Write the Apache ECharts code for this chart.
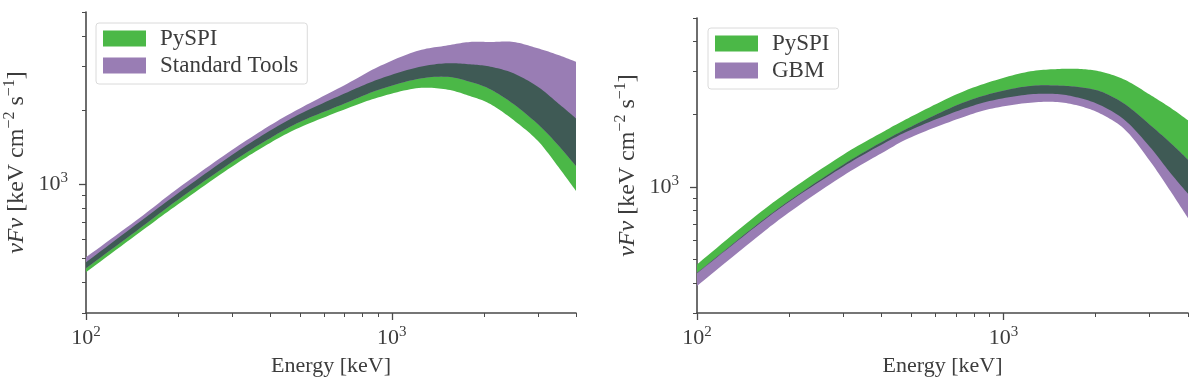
<!DOCTYPE html>
<html>
<head>
<meta charset="utf-8">
<script src="https://cdn.jsdelivr.net/npm/echarts@6.0.0/dist/echarts.min.js"></script>
<style>html,body{margin:0;padding:0;background:#fff}#main{width:1200px;height:382px}</style>
</head>
<body>
<div id="main"></div>
<script>
var energy = [100, 150, 200, 300, 400, 500, 700, 900, 1200, 1500, 1800, 2100, 2500, 3000, 3500, 4000];

// left panel: PySPI vs Standard Tools (keV cm^-2 s^-1)
var pyspiLoA = [439, 638, 829, 1178, 1471, 1700, 2011, 2247, 2449, 2427, 2279, 2114, 1820, 1500, 1176, 939];
var pyspiHiA = [482, 704, 919, 1314, 1650, 1925, 2333, 2660, 2970, 3095, 3066, 2998, 2818, 2487, 2128, 1849];
var stdLo = [456, 662, 865, 1230, 1538, 1790, 2125, 2411, 2665, 2731, 2606, 2427, 2114, 1754, 1440, 1184];
var stdHi = [505, 731, 963, 1376, 1733, 2031, 2523, 2990, 3463, 3650, 3778, 3778, 3778, 3562, 3345, 3142];

// right panel: PySPI vs GBM
var pyspiLoB = [438, 660, 867, 1211, 1494, 1724, 2048, 2263, 2409, 2420, 2318, 2158, 1878, 1466, 1143, 935];
var pyspiHiB = [477, 730, 962, 1358, 1675, 1952, 2409, 2714, 2992, 3073, 3073, 2987, 2766, 2409, 2127, 1884];
var gbmLo = [388, 591, 784, 1111, 1377, 1605, 1897, 2097, 2225, 2242, 2148, 1990, 1716, 1282, 962, 741];
var gbmHi = [440, 666, 875, 1234, 1530, 1774, 2168, 2420, 2608, 2625, 2576, 2466, 2189, 1808, 1522, 1294];

var xMajor = [100, 1000];
var xMinor = [200, 300, 400, 500, 600, 700, 800, 900, 2000, 3000, 4000];
var yMajor = [1000];
var yMinor = [300, 400, 500, 600, 700, 800, 900, 2000, 3000, 4000, 5000];
var xRange = [100, 4000];
var yRange = [300, 5000];

var font = 'Liberation Serif';
var ink = '#3c3c3c';
var spine = '#4a4a4a';
var green = '#4bb847';
var purple = '#997db4';
var dark = '#3f5a55';

var myChart = echarts.init(document.getElementById('main'));

function lg(v) { return Math.log10(v); }

var powRich = {
    b: { fontFamily: font, fontSize: 22, color: ink },
    s: { fontFamily: font, fontSize: 15, color: ink, padding: [0, 0, 12, 0] }
};
function powLabel(v) { return '{b|10}{s|' + Math.round(v) + '}'; }

var yName = '{i|νFν} [keV cm{s|−2} s{s|−1}]';
var nameRich = {
    i: { fontFamily: font, fontSize: 24, fontStyle: 'italic', color: ink },
    s: { fontFamily: font, fontSize: 16, color: ink, padding: [0, 0, 13, 0] }
};

// one hidden log axis carries the data, two value axes (log10 space) draw ticks
function axesFor(g, dim) {
    var isX = dim === 'x';
    var range = isX ? xRange : yRange;
    var pos = isX ? 'bottom' : 'left';
    var major = isX ? xMajor : yMajor;
    var minor = isX ? xMinor : yMinor;
    return [
        { type: 'log', gridIndex: g, position: pos, min: range[0], max: range[1], show: false },
        {
            type: 'value', gridIndex: g, position: pos, min: lg(range[0]), max: lg(range[1]),
            axisLine: { show: true, onZero: false, lineStyle: { color: spine, width: 1.6 } },
            axisTick: { show: true, length: 7, customValues: major.map(lg), lineStyle: { color: spine, width: 1.3 } },
            axisLabel: { show: true, customValues: major.map(lg), formatter: powLabel, rich: powRich, margin: isX ? 12 : 18 },
            splitLine: { show: false },
            name: isX ? 'Energy [keV]' : yName,
            nameLocation: 'middle',
            nameGap: isX ? 42 : 55,
            nameTextStyle: isX ? { fontFamily: font, fontSize: 22, color: ink } :
                { fontFamily: font, fontSize: 24, color: ink, rich: nameRich }
        },
        {
            type: 'value', gridIndex: g, position: pos, min: lg(range[0]), max: lg(range[1]),
            axisLine: { show: false, onZero: false },
            axisTick: { show: true, length: 4, customValues: minor.map(lg), lineStyle: { color: spine, width: 1 } },
            axisLabel: { show: false },
            splitLine: { show: false }
        }
    ];
}

// catmull-rom through the projected points, so the band edges look smooth
function smoothPts(pts) {
    var out = [], n = pts.length, steps = 12;
    for (var i = 0; i < n - 1; i++) {
        var p0 = pts[Math.max(i - 1, 0)], p1 = pts[i], p2 = pts[i + 1], p3 = pts[Math.min(i + 2, n - 1)];
        for (var k = 0; k < steps; k++) {
            var t = k / steps, t2 = t * t, t3 = t2 * t;
            out.push([0, 1].map(function (d) {
                return 0.5 * ((2 * p1[d]) + (-p0[d] + p2[d]) * t +
                    (2 * p0[d] - 5 * p1[d] + 4 * p2[d] - p3[d]) * t2 +
                    (-p0[d] + 3 * p1[d] - 3 * p2[d] + p3[d]) * t3);
            }));
        }
    }
    out.push(pts[n - 1]);
    return out;
}

function drawBand(params, api) {
    if (params.dataIndexInside !== 0) return null;
    var n = params.dataInsideLength;
    var upper = [], lower = [];
    for (var i = 0; i < n; i++) {
        upper.push(api.coord([api.value(0, i), api.value(2, i)]));
        lower.push(api.coord([api.value(0, i), api.value(1, i)]));
    }
    return {
        type: 'polygon',
        shape: { points: smoothPts(upper).concat(smoothPts(lower).reverse()) },
        style: { fill: api.visual('color') }
    };
}

function band(name, axis, lo, hi, color) {
    return {
        type: 'custom', name: name, xAxisIndex: axis, yAxisIndex: axis,
        data: energy.map(function (e, i) { return [e, lo[i], hi[i]]; }),
        encode: { x: 0, y: [1, 2] },
        renderItem: drawBand, itemStyle: { color: color }, silent: true, clip: true
    };
}

function overlapOf(loA, hiA, loB, hiB) {
    return {
        lo: loA.map(function (v, i) { return Math.max(v, loB[i]); }),
        hi: hiA.map(function (v, i) { return Math.min(v, hiB[i]); })
    };
}

var ovA = overlapOf(pyspiLoA, pyspiHiA, stdLo, stdHi);
var ovB = overlapOf(pyspiLoB, pyspiHiB, gbmLo, gbmHi);

function legendFor(left, top, names) {
    return {
        left: left, top: top, orient: 'vertical', icon: 'rect', selectedMode: false,
        data: names, itemWidth: 43, itemHeight: 16, itemGap: 4,
        padding: [4, 9, 7, 7],
        borderColor: '#dadada', borderWidth: 1, borderRadius: 3, backgroundColor: 'rgba(255,255,255,0.85)',
        textStyle: { fontFamily: font, fontSize: 23, color: ink, padding: [0, 0, 0, 9] }
    };
}

option = {
    animation: false,
    grid: [
        { left: 86, top: 12, width: 490, height: 301, containLabel: false, outerBoundsMode: 'none' },
        { left: 697, top: 18, width: 491, height: 295, containLabel: false, outerBoundsMode: 'none' }
    ],
    xAxis: axesFor(0, 'x').concat(axesFor(1, 'x')),
    yAxis: axesFor(0, 'y').concat(axesFor(1, 'y')),
    legend: [
        legendFor(96, 23, ['PySPI', 'Standard Tools']),
        legendFor(708, 28, ['PySPI', 'GBM'])
    ],
    series: [
        band('PySPI', 0, pyspiLoA, pyspiHiA, green),
        band('Standard Tools', 0, stdLo, stdHi, purple),
        band('overlap', 0, ovA.lo, ovA.hi, dark),
        band('PySPI', 3, pyspiLoB, pyspiHiB, green),
        band('GBM', 3, gbmLo, gbmHi, purple),
        band('overlap', 3, ovB.lo, ovB.hi, dark)
    ]
};
myChart.setOption(option);
</script>
</body>
</html>
